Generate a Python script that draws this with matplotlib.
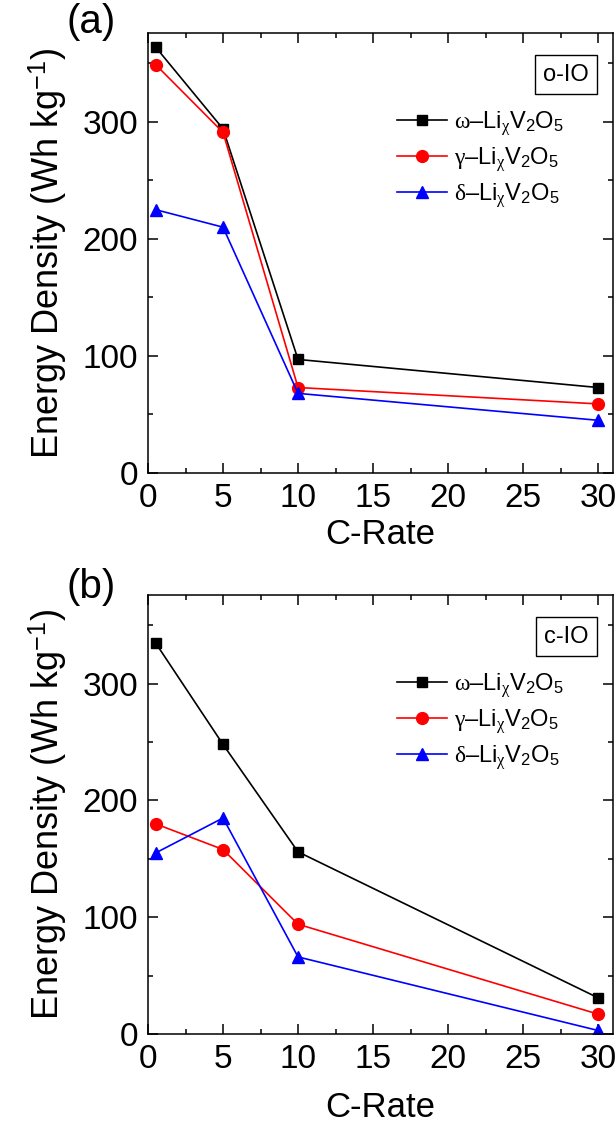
import matplotlib
matplotlib.use('Agg')
import matplotlib.pyplot as plt
from matplotlib.ticker import MultipleLocator

plt.rcParams['font.family'] = ['Liberation Sans', 'DejaVu Sans']
plt.rcParams['mathtext.fontset'] = 'custom'
plt.rcParams['mathtext.rm'] = 'Liberation Sans'
plt.rcParams['mathtext.it'] = 'Liberation Serif:italic'
plt.rcParams['mathtext.sf'] = 'Liberation Serif'

# C-rate and energy density values (Wh/kg)
c_rate = [0.5, 5, 10, 30]

a_omega = [364, 294, 97, 73]
a_gamma = [349, 291, 73, 59]
a_delta = [225, 210, 68, 45]

b_omega = [335, 248, 156, 31]
b_gamma = [180, 158, 94, 17]
b_delta = [155, 185, 66, 3]

series_labels = [r'$\mathsf{ω}$–Li$_{\mathsf{χ}}$V$_2$O$_5$',
                 r'$\mathsf{γ}$–Li$_{\mathsf{χ}}$V$_2$O$_5$',
                 r'$\mathsf{δ}$–Li$_{\mathsf{χ}}$V$_2$O$_5$']
colors = ['black', 'red', 'blue']
markers = ['s', 'o', '^']
msizes = [7.5, 8.5, 9]

panels = [('(a)', 'o-IO', [a_omega, a_gamma, a_delta]),
          ('(b)', 'c-IO', [b_omega, b_gamma, b_delta])]

fig = plt.figure(figsize=(6.16, 11.35), dpi=100)
ax_pos = [[0.2403, 0.5833, 0.7549, 0.3877],
          [0.2403, 0.0890, 0.7549, 0.3868]]
tag_y = [0.981, 0.483]
xlab_pad = [3, 12]

for i, (tag, box, data) in enumerate(panels):
    ax = fig.add_axes(ax_pos[i])
    for y, lab, c, m, ms in zip(data, series_labels, colors, markers, msizes):
        ax.plot(c_rate, y, color=c, marker=m, markersize=ms, lw=1.2, label=lab)
    ax.set_xlim(0, 31)
    ax.set_ylim(0, 376)
    ax.xaxis.set_major_locator(MultipleLocator(5))
    ax.xaxis.set_minor_locator(MultipleLocator(2.5))
    ax.yaxis.set_major_locator(MultipleLocator(100))
    ax.yaxis.set_minor_locator(MultipleLocator(50))
    ax.tick_params(which='both', direction='in', top=True, right=True, width=1.1)
    ax.tick_params(which='major', length=7, labelsize=24, pad=7)
    ax.tick_params(which='minor', length=3.5)
    for s in ax.spines.values():
        s.set_linewidth(1.1)
    ax.set_xlabel('C-Rate', fontsize=25, labelpad=xlab_pad[i])
    ax.set_ylabel('Energy Density (Wh kg$^{-1}$)', fontsize=26, labelpad=10)
    ax.text(0.899, 0.905, box, transform=ax.transAxes, ha='center', va='center',
            fontsize=17, bbox=dict(boxstyle='square,pad=0.35', fc='white', ec='black', lw=1))
    ax.legend(loc='upper left', bbox_to_anchor=(0.49, 0.875), frameon=False,
              fontsize=17, handlelength=2.1, labelspacing=0.3, handletextpad=0.3)
    fig.text(0.108, tag_y[i], tag, fontsize=29, va='center', ha='left')

fig.savefig('out.png', dpi=100)
